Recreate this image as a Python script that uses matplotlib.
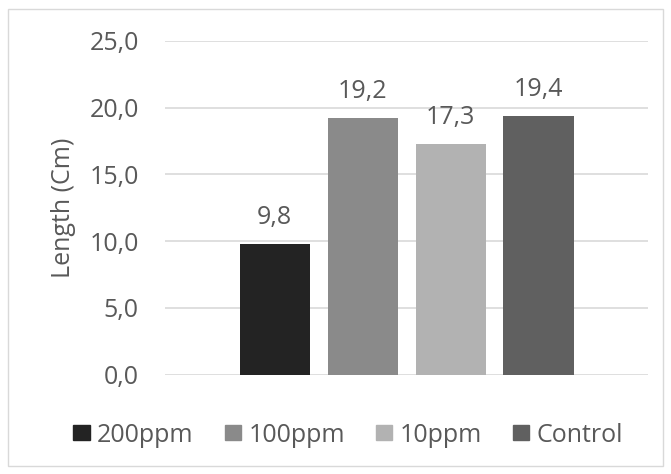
import matplotlib.pyplot as plt
from matplotlib.patches import Rectangle
from matplotlib.ticker import FuncFormatter

series = ["200ppm", "100ppm", "10ppm", "Control"]
lengths = [9.8, 19.2, 17.3, 19.4]
colors = ["#232323", "#8a8a8a", "#b2b2b2", "#606060"]

text_color = "#595959"
grid_color = "#d9d9d9"
fs = 18
plt.rcParams["font.family"] = ["Open Sans", "DejaVu Sans"]

fig = plt.figure(figsize=(6.71, 4.74), dpi=100)
ax = fig.add_axes([0.246, 0.2095, 0.72, 0.7045])

n = len(series)
width = 0.145
step = 0.182
for i, (name, val, col) in enumerate(zip(series, lengths, colors)):
    x = (i - (n - 1) / 2) * step
    ax.bar(x, val, width=width, color=col, label=name, zorder=3)
    ax.annotate(f"{val:.1f}".replace(".", ","), (x, val), xytext=(0, 10),
                textcoords="offset points", ha="center", va="bottom",
                fontsize=fs, color=text_color)

ax.set_xlim(-0.5, 0.5)
ax.set_ylim(0, 25)
ax.set_yticks(range(0, 26, 5))
ax.yaxis.set_major_formatter(FuncFormatter(lambda v, p: f"{v:.1f}".replace(".", ",")))
ax.set_xticks([])
ax.tick_params(axis="y", length=0, pad=19, labelsize=fs, labelcolor=text_color)
ax.grid(axis="y", color=grid_color, linewidth=1.2, zorder=0)
for s in ax.spines.values():
    s.set_visible(False)

# y label placed directly so it sits close to the tick labels like Excel does
fig.text(0.095, 0.561, "Length (Cm)", rotation=90, ha="center", va="center",
         fontsize=fs, color=text_color)

handles = [Rectangle((0, 0), 1, 1, color=c) for c in colors]
leg = fig.legend(handles, series, loc="center", bbox_to_anchor=(0.519, 0.082),
                 ncol=4, frameon=False, fontsize=fs, handlelength=0.65,
                 handleheight=0.55, handletextpad=0.3, columnspacing=1.24)
for t in leg.get_texts():
    t.set_color(text_color)

fig.patches.append(Rectangle((0.012, 0.017), 0.976, 0.964, transform=fig.transFigure,
                             fill=False, edgecolor=grid_color, linewidth=1))

fig.savefig("out.png", dpi=100)
